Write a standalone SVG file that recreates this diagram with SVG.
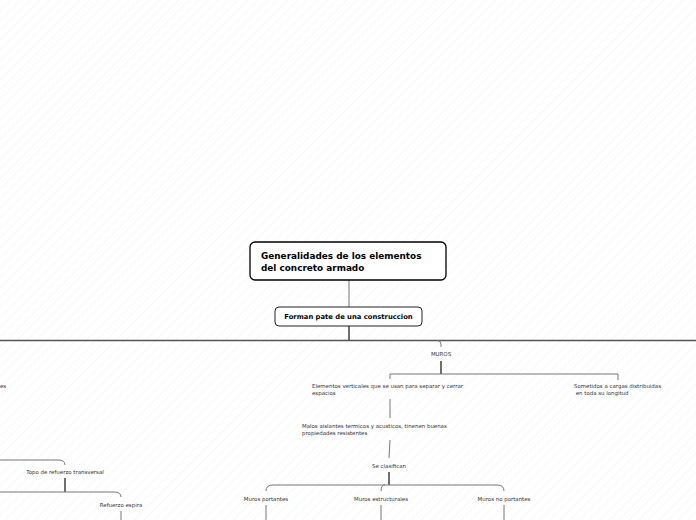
<svg xmlns="http://www.w3.org/2000/svg" width="696" height="520" viewBox="0 0 696 520">
<defs>
<pattern id="hatch" width="7" height="7" patternUnits="userSpaceOnUse" patternTransform="rotate(45)">
<line x1="0" y1="0" x2="0" y2="7" stroke="#f0f0f0" stroke-width="1"/>
</pattern>
</defs>
<style>
.t{font-family:"DejaVu Sans","Verdana",sans-serif;fill:#222}
.b{font-weight:bold;fill:#000}
.s{font-size:5.45px;fill:#333}
.c{fill:none;stroke:#777;stroke-width:1}
.d{fill:none;stroke:#222;stroke-width:1.3}
</style>
<rect width="696" height="520" fill="#fff"/>
<rect width="696" height="520" fill="url(#hatch)"/>
<g id="connectors">
<line class="c" x1="349" y1="280" x2="349" y2="307"/>
<line class="d" x1="349" y1="326" x2="349" y2="340"/>
<line x1="0" y1="340.5" x2="696" y2="340.5" stroke="#555" stroke-width="1.6"/>
<path class="c" d="M437 340.5 Q441 340.5 441 344 L441 347"/>
<line class="d" x1="441" y1="361" x2="441" y2="374"/>
<path class="c" d="M390 379 L390 374 L618 374 L618 380"/>
<line class="c" x1="390" y1="399" x2="390" y2="418"/>
<line class="c" x1="390" y1="440" x2="389" y2="458"/>
<line class="d" x1="389" y1="472" x2="389" y2="485"/>
<path class="c" d="M266 491 Q266 485 273 485 L497 485 Q504 485 504 491"/>
<path class="c" d="M381 491 Q381 485 385 485"/>
<line class="c" x1="266" y1="505" x2="266" y2="520"/>
<line class="c" x1="381" y1="505" x2="381" y2="520"/>
<line class="c" x1="504" y1="505" x2="504" y2="520"/>
<path class="c" d="M0 460 L58 460 Q65 460 65 465"/>
<line class="d" x1="65" y1="478" x2="65" y2="492"/>
<path class="c" d="M0 492 L114 492 Q121 492 121 497"/>
<line class="c" x1="121" y1="511" x2="121" y2="520"/>
</g>
<g id="n-main">
<rect x="250" y="242" width="196" height="38" rx="5" fill="#fff" stroke="#000" stroke-width="1.3"/>
<text class="t b" x="261" y="259" font-size="8.9">Generalidades de los elementos</text>
<text class="t b" x="261" y="270.5" font-size="8.9">del concreto armado</text>
</g>
<g id="n-forman">
<rect x="275" y="307" width="147" height="19" rx="4" fill="#fff" stroke="#222" stroke-width="1"/>
<text class="t b" x="348.5" y="319" font-size="6.8" text-anchor="middle">Forman pate de una construccion</text>
</g>
<g id="n-muros"><text class="t s" x="441" y="356" text-anchor="middle">MUROS</text></g>
<g id="n-elementos"><text class="t s" x="312" y="388">Elementos verticales que se usan para separar y cerrar</text><text class="t s" x="312" y="395">espacios</text></g>
<g id="n-sometidos"><text class="t s" x="574" y="388">Sometidos a cargas distribuidas</text><text class="t s" x="574" y="395" xml:space="preserve"> en toda su longitud</text></g>
<g id="n-malos"><text class="t s" x="302" y="428">Malos aislantes termicos y acusticos, tinenen buenas</text><text class="t s" x="302" y="435">propiedades resistentes</text></g>
<g id="n-clasifican"><text class="t s" x="389" y="468" text-anchor="middle">Se clasifican</text></g>
<g id="n-portantes"><text class="t s" x="266" y="501" text-anchor="middle">Muros portantes</text></g>
<g id="n-estructurales"><text class="t s" x="381" y="501" text-anchor="middle">Muros estructurales</text></g>
<g id="n-noportantes"><text class="t s" x="504" y="501" text-anchor="middle">Muros no portantes</text></g>
<g id="n-es"><text class="t s" x="0" y="388">es</text></g>
<g id="n-topo"><text class="t s" x="65" y="474" text-anchor="middle">Topo de refuerzo transversal</text></g>
<g id="n-espira"><text class="t s" x="121" y="507" text-anchor="middle">Refuerzo espira</text></g>
</svg>
